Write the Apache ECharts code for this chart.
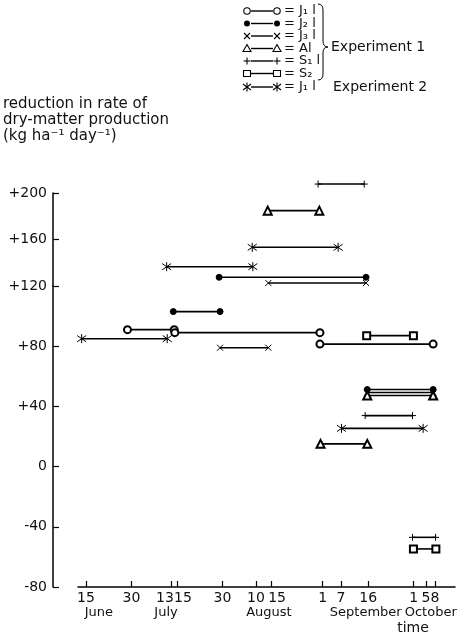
<!DOCTYPE html>
<html><head><meta charset="utf-8">
<script src="https://cdn.jsdelivr.net/npm/echarts@6/dist/echarts.min.js"></script>
<style>html,body{margin:0;padding:0;background:#fff}#c{width:476px;height:639px}</style>
</head><body><div id="c"></div>
<script>
// x: day of year (15 June = 166 ... 8 October = 281); y: reduction in rate of dry-matter production (kg ha-1 day-1)
const tickDays    = [166, 181, 194, 196, 211, 222, 227, 244, 250, 259, 274, 278, 281];
const tickLabels  = ['15', '30', '13', '15', '30', '10', '15', '1', '7', '16', '1', '5', '8'];
const monthDays   = [170.3, 192.4, 226.3, 258.2, 279.6];
const monthLabels = ['June', 'July', 'August', 'September', 'October'];

// segments: [start day, end day, value]
const J1_exp1 = [[179.7, 195.1, 91], [195.3, 243.1, 89], [243.1, 280.4, 81.4]];
const J2      = [[194.8, 210.2, 103], [209.9, 258.3, 127.5], [258.7, 280.4, 51.2]];
const J3      = [[210.2, 226.1, 79], [226.1, 258.3, 122.6], [258.7, 280.4, 49.2]];
const Al      = [[225.9, 242.9, 184.8], [243.3, 258.7, 15.1], [258.7, 280.4, 47.2]];
const S1      = [[242.5, 257.7, 207.7], [258, 273.6, 33.9], [273.6, 281.2, -47]];
const S2      = [[258.5, 273.9, 87], [273.9, 281.3, -54.7]];
const J1_exp2 = [[164.6, 192.8, 85], [192.6, 221, 136.6], [220.8, 249.1, 153.3], [250.2, 277.1, 25.4]];

const legendLabels = ['= J\u2081 l', '= J\u2082 l', '= J\u2083 l', '= Al', '= S\u2081 l', '= S\u2082', '= J\u2081 l'];

const FONT = 'DejaVu Sans';
const INK = '#111';

const SYM = {
  J1:  { symbol: 'emptyCircle', size: 7 },
  J2:  { symbol: 'circle', size: 6 },
  J3:  { symbol: 'path://M0,0L10,10M10,0L0,10', size: 6 },
  Al:  { symbol: 'emptyTriangle', size: 8 },
  S1:  { symbol: 'path://M5,0L5,10M0,5L10,5', size: 7 },
  S2:  { symbol: 'emptyRect', size: 7 },
  J1b: { symbol: 'path://M5,0L5,10M0.5,1.5L9.5,8.5M0.5,8.5L9.5,1.5', size: 9 }
};

const groups = [['J1', J1_exp1], ['J2', J2], ['J3', J3], ['Al', Al], ['S1', S1], ['S2', S2], ['J1b', J1_exp2]];
const series = [];
groups.forEach(([key, segs]) => {
  segs.forEach(([a, b, v]) => {
    const upper = v >= 120;
    series.push({
      type: 'line', silent: true, clip: false, animation: false,
      xAxisIndex: upper ? 2 : 0, yAxisIndex: upper ? 1 : 0,
      data: [[a, v], [b, v]],
      symbol: SYM[key].symbol, symbolSize: SYM[key].size, showSymbol: true,
      lineStyle: { color: '#000', width: 1.6 },
      itemStyle: { color: '#000', borderColor: '#000', borderWidth: 1 }
    });
  });
});

// legend drawn as graphics
const rowY = [11, 23.5, 36, 48.5, 61, 73.5, 87];
const legKeys = ['J1', 'J2', 'J3', 'Al', 'S1', 'S2', 'J1b'];
const stroke = { stroke: '#000', lineWidth: 1.1, fill: null };
function symG(key, cx, cy) {
  switch (key) {
    case 'J1': return [{ type: 'circle', shape: { cx, cy, r: 3.2 }, style: { fill: '#fff', stroke: '#000', lineWidth: 1.1 } }];
    case 'J2': return [{ type: 'circle', shape: { cx, cy, r: 3 }, style: { fill: '#000' } }];
    case 'J3': return [
      { type: 'line', shape: { x1: cx - 3, y1: cy - 3, x2: cx + 3, y2: cy + 3 }, style: stroke },
      { type: 'line', shape: { x1: cx + 3, y1: cy - 3, x2: cx - 3, y2: cy + 3 }, style: stroke }];
    case 'Al': return [{ type: 'polygon', shape: { points: [[cx, cy - 4], [cx + 4, cy + 3], [cx - 4, cy + 3]] }, style: { fill: '#fff', stroke: '#000', lineWidth: 1.1 } }];
    case 'S1': return [
      { type: 'line', shape: { x1: cx - 3.5, y1: cy, x2: cx + 3.5, y2: cy }, style: stroke },
      { type: 'line', shape: { x1: cx, y1: cy - 3.5, x2: cx, y2: cy + 3.5 }, style: stroke }];
    case 'S2': return [{ type: 'rect', shape: { x: cx - 3.5, y: cy - 3, width: 7, height: 6 }, style: { fill: '#fff', stroke: '#000', lineWidth: 1.1 } }];
    case 'J1b': return [
      { type: 'line', shape: { x1: cx, y1: cy - 4.5, x2: cx, y2: cy + 4.5 }, style: stroke },
      { type: 'line', shape: { x1: cx - 4, y1: cy - 3, x2: cx + 4, y2: cy + 3 }, style: stroke },
      { type: 'line', shape: { x1: cx + 4, y1: cy - 3, x2: cx - 4, y2: cy + 3 }, style: stroke }];
  }
}
const graphics = [];
legKeys.forEach((k, i) => {
  const y = rowY[i];
  graphics.push({ type: 'line', shape: { x1: 251, y1: y, x2: 273, y2: y }, style: { stroke: '#000', lineWidth: 1.4 } });
  symG(k, 247, y).forEach(g => graphics.push(g));
  symG(k, 277, y).forEach(g => graphics.push(g));
  graphics.push({ type: 'text', x: 284, y: y, style: { text: legendLabels[i], font: '13px ' + FONT, fill: INK, verticalAlign: 'middle', align: 'left' } });
});
const brace = { stroke: '#000', lineWidth: 1, fill: null };
graphics.push(
  { type: 'bezierCurve', shape: { x1: 318, y1: 4, cpx1: 323, cpy1: 4, x2: 323, y2: 10 }, style: brace },
  { type: 'line', shape: { x1: 323, y1: 10, x2: 323, y2: 41 }, style: brace },
  { type: 'bezierCurve', shape: { x1: 323, y1: 41, cpx1: 323, cpy1: 47, x2: 328, y2: 47 }, style: brace },
  { type: 'bezierCurve', shape: { x1: 328, y1: 47, cpx1: 323, cpy1: 47, x2: 323, y2: 53 }, style: brace },
  { type: 'line', shape: { x1: 323, y1: 53, x2: 323, y2: 74 }, style: brace },
  { type: 'bezierCurve', shape: { x1: 323, y1: 74, cpx1: 323, cpy1: 80, x2: 318, y2: 80 }, style: brace },
  { type: 'text', x: 331, y: 47, style: { text: 'Experiment 1', font: '14px ' + FONT, fill: INK, verticalAlign: 'middle' } },
  { type: 'text', x: 333, y: 87, style: { text: 'Experiment 2', font: '14px ' + FONT, fill: INK, verticalAlign: 'middle' } },
  { type: 'text', x: 3, y: 96, style: { text: 'reduction in rate of\ndry-matter production\n(kg ha\u207B\u00B9 day\u207B\u00B9)', font: '15px ' + FONT, fill: INK, lineHeight: 16 } },
  { type: 'text', x: 413, y: 628, style: { text: 'time', font: '14px ' + FONT, fill: INK, align: 'center', verticalAlign: 'middle' } }
);

const X_MIN = 163.4, X_MAX = 287.6;
const labelStyle = { fontFamily: FONT, fontSize: 14, color: INK };
const shift = { 2: 'l', 3: 'r', 6: 'r' };

const option = {
  backgroundColor: '#fff',
  animation: false,
  grid: [
    { left: 78, right: 21, top: 286, bottom: 52 },
    { left: 78, right: 21, top: 193, height: 93 }
  ],
  xAxis: [
    {
      gridIndex: 0, type: 'value', min: X_MIN, max: X_MAX, position: 'bottom',
      splitLine: { show: false },
      axisLine: { onZero: false, lineStyle: { color: '#000', width: 1.5 } },
      axisTick: { customValues: tickDays, inside: true, length: 6, lineStyle: { color: '#000', width: 1.2 } },
      axisLabel: Object.assign({
        customValues: tickDays, margin: 4, hideOverlap: false,
        formatter: v => {
          const i = tickDays.indexOf(v);
          if (i < 0) return '';
          return shift[i] ? '{' + shift[i] + '|' + tickLabels[i] + '}' : tickLabels[i];
        },
        rich: {
          l: { fontFamily: FONT, fontSize: 14, color: INK, padding: [0, 12, 0, 0] },
          r: { fontFamily: FONT, fontSize: 14, color: INK, padding: [0, 0, 0, 12] }
        }
      }, labelStyle)
    },
    {
      gridIndex: 0, type: 'value', min: X_MIN, max: X_MAX, position: 'bottom', offset: 0,
      splitLine: { show: false }, axisLine: { show: false, onZero: false }, axisTick: { show: false },
      axisLabel: {
        customValues: monthDays, margin: 19, hideOverlap: false,
        fontFamily: FONT, fontSize: 13, color: INK,
        formatter: v => { const i = monthDays.indexOf(v); return i < 0 ? '' : monthLabels[i]; }
      }
    },
    { gridIndex: 1, type: 'value', min: X_MIN, max: X_MAX, show: false }
  ],
  yAxis: [
    {
      gridIndex: 0, type: 'value', min: -80, max: 120, interval: 40, offset: 25,
      splitLine: { show: false },
      axisLine: { show: true, onZero: false, lineStyle: { color: '#000', width: 1.5 } },
      axisTick: { show: true, inside: true, length: 6, lineStyle: { color: '#000', width: 1.2 } },
      axisLabel: Object.assign({ margin: 6, formatter: v => v > 0 ? '+' + v : String(v) }, labelStyle)
    },
    {
      gridIndex: 1, type: 'value', min: 120, max: 200, interval: 40, offset: 25,
      splitLine: { show: false },
      axisLine: { show: true, onZero: false, lineStyle: { color: '#000', width: 1.5 } },
      axisTick: { show: true, inside: true, length: 6, lineStyle: { color: '#000', width: 1.2 } },
      axisLabel: Object.assign({ margin: 6, showMinLabel: false, formatter: v => v > 0 ? '+' + v : String(v) }, labelStyle)
    }
  ],
  graphic: graphics,
  series: series
};

const chart = echarts.init(document.getElementById('c'), null, { renderer: 'canvas' });
chart.setOption(option);
</script>
</body></html>
